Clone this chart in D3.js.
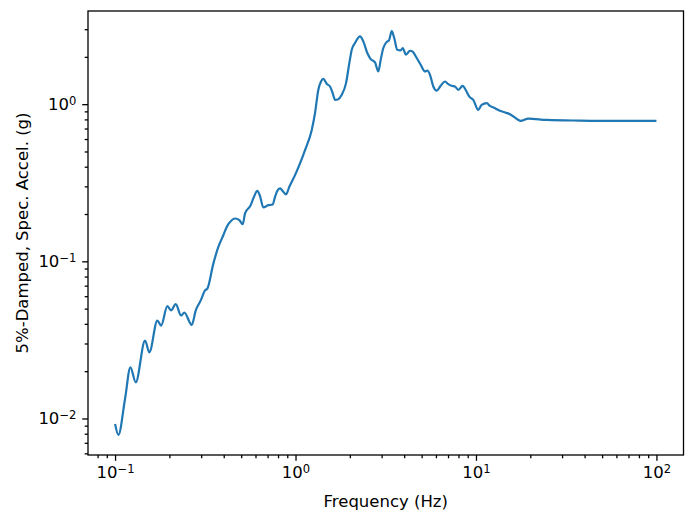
<!DOCTYPE html>
<html lang="en">
<head>
  <meta charset="UTF-8">
  <title>Response Spectrum</title>
  <script src="https://d3js.org/d3.v7.min.js"></script>
  <style>
    body { margin: 0; background: white; font-family: "DejaVu Sans", sans-serif; }
    svg text { font-family: "DejaVu Sans", sans-serif; fill: black; }
  </style>
</head>
<body>
  <svg id="chart" width="694" height="523"></svg>

  <script>
    // spectrum (Hz, g)
    const freq = [0.1, 0.1043, 0.1136, 0.1216, 0.1302, 0.1466, 0.1549, 0.1715, 0.1798, 0.1949,
      0.2042, 0.2169, 0.2321, 0.242, 0.266, 0.28, 0.2984, 0.3152, 0.3246, 0.3504,
      0.3735, 0.398, 0.4157, 0.443, 0.4622, 0.4883, 0.5098, 0.525, 0.5646, 0.5836,
      0.6142, 0.6358, 0.6632, 0.7068, 0.7475, 0.7699, 0.793, 0.8205, 0.8557, 0.8857,
      0.924, 0.9937, 1.059, 1.129, 1.23, 1.282, 1.338, 1.384, 1.426, 1.489,
      1.553, 1.607, 1.655, 1.726, 1.803, 1.905, 1.987, 2.049, 2.136, 2.277,
      2.375, 2.499, 2.61, 2.757, 2.876, 2.965, 3.065, 3.201, 3.296, 3.412,
      3.523, 3.664, 3.826, 3.925, 4.094, 4.308, 4.459, 4.693, 4.939, 5.218,
      5.373, 5.562, 5.8, 6.058, 6.375, 6.733, 7.023, 7.335, 7.65, 7.979,
      8.439, 8.802, 9.182, 9.661, 10.3, 10.75, 11.47, 11.96, 12.75, 13.46,
      14.48, 15.43, 16.45, 17.69, 19.49, 24.64, 37.69, 57.63, 100];
    const accel = [0.00921, 0.00787, 0.01336, 0.02115, 0.01697, 0.0313, 0.02637, 0.042, 0.039, 0.0518,
      0.0487, 0.0534, 0.0452, 0.0472, 0.0394, 0.0487, 0.0564, 0.0653, 0.067, 0.0967,
      0.1234, 0.1465, 0.1655, 0.1826, 0.1873, 0.1826, 0.1722, 0.2016, 0.2278, 0.2513,
      0.281, 0.26, 0.2202, 0.2278, 0.2301, 0.2573, 0.281, 0.2911, 0.2769, 0.2665,
      0.2979, 0.3538, 0.4202, 0.5109, 0.6855, 0.876, 1.234, 1.394, 1.45, 1.347,
      1.295, 1.175, 1.065, 1.076, 1.147, 1.361, 1.827, 2.221, 2.451, 2.701,
      2.509, 2.116, 1.937, 1.843, 1.615, 1.917, 2.277, 2.487, 2.546, 2.914,
      2.638, 2.221, 2.198, 2.277, 2.064, 2.188, 2.157, 1.966, 1.781, 1.615,
      1.638, 1.538, 1.295, 1.221, 1.309, 1.394, 1.342, 1.309, 1.295, 1.234,
      1.309, 1.221, 1.118, 1.065, 0.92, 0.99, 1.015, 0.975, 0.943, 0.91,
      0.886, 0.863, 0.821, 0.782, 0.809, 0.794, 0.786, 0.782, 0.782];

    const xMajor = [0.1, 1, 10, 100];
    const yMajor = [0.01, 0.1, 1];
    const xLabel = "Frequency (Hz)";
    const yLabel = "5%-Damped, Spec. Accel. (g)";

    const svg = d3.select("#chart"),
      margin = {top: 11, right: 10.5, bottom: 68, left: 88},
      width = +svg.attr("width") - margin.left - margin.right,
      height = +svg.attr("height") - margin.top - margin.bottom;

    const chart = svg.append("g")
      .attr("transform", `translate(${margin.left},${margin.top})`);

    const data = d3.zip(freq, accel);

    // matplotlib-like 5% margins in log space
    function padLog(ext) {
      const a = Math.log10(ext[0]), b = Math.log10(ext[1]), p = (b - a) * 0.05;
      return [Math.pow(10, a - p), Math.pow(10, b + p)];
    }

    const x = d3.scaleLog().domain(padLog(d3.extent(freq))).range([0, width]);
    const y = d3.scaleLog().domain(padLog(d3.extent(accel))).range([height, 0]);

    function minors(scale) {
      const [lo, hi] = scale.domain(), out = [];
      for (let e = Math.floor(Math.log10(lo)); e <= Math.ceil(Math.log10(hi)); e++) {
        for (let k = 2; k <= 9; k++) {
          const v = k * Math.pow(10, e);
          if (v >= lo && v <= hi) out.push(v);
        }
      }
      return out;
    }

    function powLabels(g) {
      g.selectAll(".tick text").each(function(d) {
        const t = d3.select(this);
        const exp = Math.round(Math.log10(d));
        t.text("10");
        t.append("tspan")
          .attr("dy", "-0.45em")
          .attr("font-size", "0.7em")
          .text(String(exp).replace("-", "\u2212"));
      });
    }

    const major = 5.8, minor = 3.3, pad = 5.8;

    // minor ticks
    chart.append("g")
      .attr("transform", `translate(0,${height})`)
      .call(d3.axisBottom(x).tickValues(minors(x)).tickFormat("").tickSize(minor).tickSizeOuter(0))
      .call(g => g.select(".domain").remove());
    chart.append("g")
      .call(d3.axisLeft(y).tickValues(minors(y)).tickFormat("").tickSize(minor).tickSizeOuter(0))
      .call(g => g.select(".domain").remove());

    // major ticks
    chart.append("g")
      .attr("transform", `translate(0,${height})`)
      .call(d3.axisBottom(x).tickValues(xMajor).tickSize(major).tickPadding(pad).tickSizeOuter(0))
      .call(g => g.select(".domain").remove())
      .call(powLabels)
      .selectAll("text").style("font-size", "16.5px");
    chart.append("g")
      .call(d3.axisLeft(y).tickValues(yMajor).tickSize(major).tickPadding(pad).tickSizeOuter(0))
      .call(g => g.select(".domain").remove())
      .call(powLabels)
      .selectAll("text").style("font-size", "16.5px");

    chart.selectAll(".tick line").attr("stroke", "black").attr("stroke-width", 1.3);

    const line = d3.line()
      .x(d => x(d[0]))
      .y(d => y(d[1]))
      .curve(d3.curveMonotoneX);

    chart.append("path")
      .datum(data)
      .attr("fill", "none")
      .attr("stroke", "#1f77b4")
      .attr("stroke-width", 2.2)
      .attr("stroke-linejoin", "round")
      .attr("d", line);

    chart.append("rect")
      .attr("width", width).attr("height", height)
      .attr("fill", "none").attr("stroke", "black").attr("stroke-width", 1.3);

    chart.append("text")
      .attr("x", width / 2).attr("y", height + 52)
      .attr("text-anchor", "middle")
      .style("font-size", "16.5px")
      .text(xLabel);

    chart.append("text")
      .attr("transform", "rotate(-90)")
      .attr("x", -height / 2).attr("y", -60)
      .attr("text-anchor", "middle")
      .style("font-size", "16.5px")
      .text(yLabel);
  </script>
</body>
</html>
